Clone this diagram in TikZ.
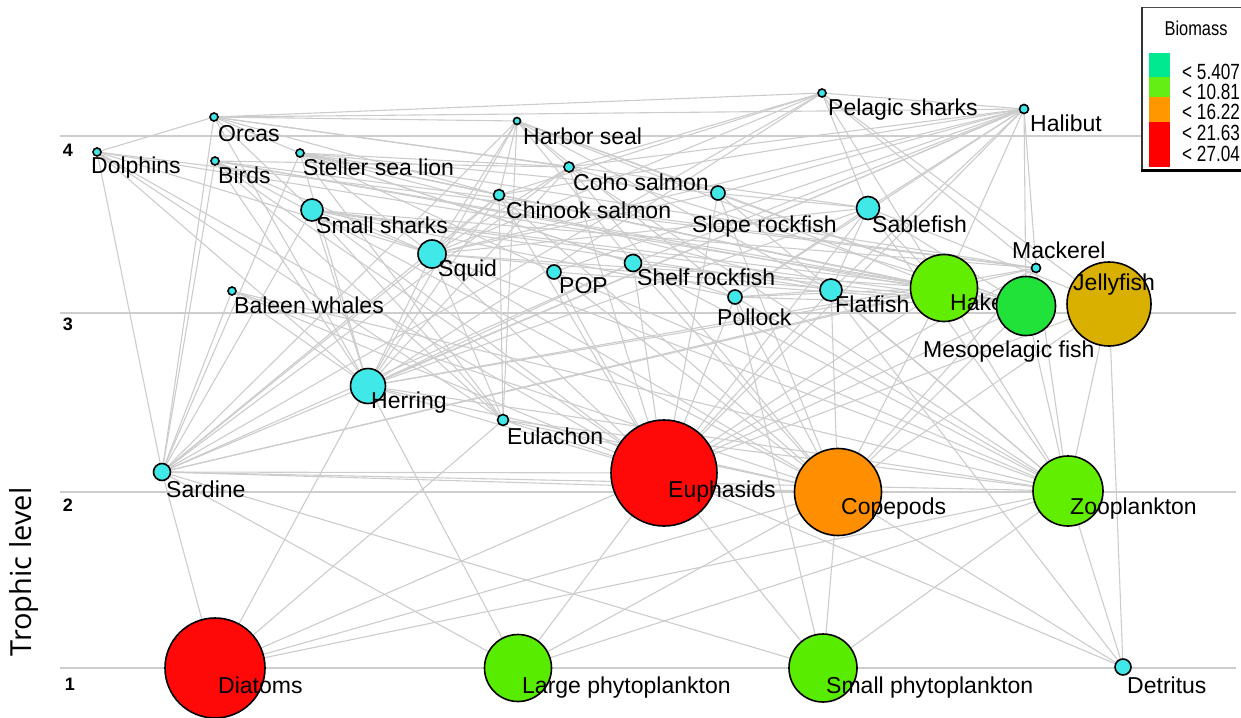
\documentclass[tikz,border=0pt]{standalone}
\usepackage{fontspec}
\setmainfont{Liberation Sans}
\newfontfamily\axisfont{Open Sans}
\pgfdeclarelayer{bg}
\pgfsetlayers{bg,main}
\definecolor{cy}{RGB}{64,232,232}
\definecolor{rd}{RGB}{255,8,8}
\definecolor{lm}{RGB}{98,238,0}
\definecolor{ph}{RGB}{88,236,0}
\definecolor{mg}{RGB}{32,226,56}
\definecolor{jf}{RGB}{218,176,0}
\definecolor{og}{RGB}{255,142,0}
\definecolor{edgegray}{RGB}{204,204,204}
\definecolor{gridgray}{RGB}{205,205,205}
\definecolor{lgteal}{RGB}{0,232,144}
\definecolor{lggreen}{RGB}{100,238,20}
\definecolor{lgorange}{RGB}{255,152,0}
\definecolor{lgred}{RGB}{255,0,0}
\tikzset{
  sp/.style 2 args={circle, draw=black, line width=1.6pt, fill=#1, inner sep=0pt, minimum size=#2},
  lbl/.style={anchor=base west, inner sep=0pt, font=\fontsize{23}{26}\selectfont},
  tick/.style={anchor=base, inner sep=0pt, font=\fontsize{18}{20}\selectfont\bfseries},
  edge/.style={draw=edgegray, line width=1.1pt},
  gridline/.style={draw=gridgray, line width=2pt},
  lgtext/.style={anchor=base west, inner sep=0pt, font=\fontsize{22}{24}\selectfont},
}
\begin{document}
\begin{tikzpicture}[x=1pt,y=-1pt]
\useasboundingbox (0,0) rectangle (1241,717);
% ---------- nodes ----------
\node[sp={cy}{8}] (dol) at (97,152) {};
\node[lbl] (dol-l) at (91,173) {Dolphins};
\node[sp={cy}{8}] (orc) at (214,117) {};
\node[lbl] (orc-l) at (218,141) {Orcas};
\node[sp={cy}{8}] (bir) at (215,161) {};
\node[lbl] (bir-l) at (218,183) {Birds};
\node[sp={cy}{8}] (ssl) at (300,153) {};
\node[lbl] (ssl-l) at (303,175) {Steller sea lion};
\node[sp={cy}{22}] (ssh) at (312,210) {};
\node[lbl] (ssh-l) at (316,233) {Small sharks};
\node[sp={cy}{8}] (bal) at (232,291) {};
\node[lbl] (bal-l) at (234,313) {Baleen whales};
\node[sp={cy}{7}] (hse) at (517,121) {};
\node[lbl] (hse-l) at (523,144) {Harbor seal};
\node[sp={cy}{10}] (coh) at (569,167) {};
\node[lbl] (coh-l) at (573,190) {Coho salmon};
\node[sp={cy}{11}] (chi) at (499,195) {};
\node[lbl] (chi-l) at (506,218) {Chinook salmon};
\node[sp={cy}{28}] (squ) at (432,254) {};
\node[lbl] (squ-l) at (438,276) {Squid};
\node[sp={cy}{14}] (pop) at (554,272) {};
\node[lbl] (pop-l) at (559,293) {POP};
\node[sp={cy}{17}] (shr) at (633,263) {};
\node[lbl] (shr-l) at (637,285) {Shelf rockfish};
\node[sp={cy}{14}] (slr) at (718,193) {};
\node[lbl] (slr-l) at (692,232) {Slope rockfish};
\node[sp={cy}{14}] (pol) at (735,297) {};
\node[lbl] (pol-l) at (717,325) {Pollock};
\node[sp={cy}{8}] (pel) at (822,93) {};
\node[lbl] (pel-l) at (828,115) {Pelagic sharks};
\node[sp={cy}{9}] (hal) at (1024,109) {};
\node[lbl] (hal-l) at (1030,131) {Halibut};
\node[sp={cy}{23}] (sab) at (868,208) {};
\node[lbl] (sab-l) at (872,232) {Sablefish};
\node[sp={cy}{22}] (fla) at (831,290) {};
\node[lbl] (fla-l) at (835,312) {Flatfish};
\node[sp={lm}{67}] (hak) at (944,288) {};
\node[lbl] (hak-l) at (950,310) {Hake};
\node[sp={cy}{9}] (mac) at (1036,268) {};
\node[lbl] (mac-l) at (1012,258) {Mackerel};
\node[sp={mg}{59}] (mes) at (1026,306) {};
\node[lbl] (mes-l) at (923,357) {Mesopelagic fish};
\node[sp={jf}{84}] (jel) at (1109,304) {};
\node[lbl] (jel-l) at (1073,290) {Jellyfish};
\node[sp={cy}{35}] (her) at (368,386) {};
\node[lbl] (her-l) at (371,408) {Herring};
\node[sp={cy}{11}] (eul) at (503,420) {};
\node[lbl] (eul-l) at (507,444) {Eulachon};
\node[sp={cy}{17}] (sar) at (162,472) {};
\node[lbl] (sar-l) at (166,497) {Sardine};
\node[sp={rd}{106}] (eup) at (664,473) {};
\node[lbl] (eup-l) at (668,497) {Euphasids};
\node[sp={og}{87}] (cop) at (838,492) {};
\node[lbl] (cop-l) at (841,514) {Copepods};
\node[sp={lm}{70}] (zoo) at (1068,491) {};
\node[lbl] (zoo-l) at (1070,514) {Zooplankton};
\node[sp={rd}{100}] (dia) at (215,668) {};
\node[lbl] (dia-l) at (218,693) {Diatoms};
\node[sp={ph}{67}] (lph) at (518,668) {};
\node[lbl] (lph-l) at (522,693) {Large phytoplankton};
\node[sp={ph}{68}] (sph) at (823,668) {};
\node[lbl] (sph-l) at (826,693) {Small phytoplankton};
\node[sp={cy}{16}] (det) at (1123,667) {};
\node[lbl] (det-l) at (1127,693) {Detritus};
% ---------- axis ----------
\node[tick] (t4) at (68,156) {4};
\node[tick] (t3) at (68,330) {3};
\node[tick] (t2) at (68,511) {2};
\node[tick] (t1) at (70,690) {1};
\node[rotate=90, inner sep=0pt, font=\axisfont\fontsize{29}{32}\selectfont] (ylab) at (24,572) {Trophic level};
% ---------- legend ----------
\fill[white] (1142,7) rectangle (1241,170);
\draw[line width=0.8pt, black!70] (1142,7) -- (1241,7);
\begin{scope}
\clip (1142,7) rectangle (1241,168);
\fill[lgteal] (1149,53) rectangle (1170,77);
\fill[lggreen] (1149,77) rectangle (1170,97);
\fill[lgorange] (1149,97) rectangle (1170,122);
\fill[lgred] (1149,122) rectangle (1170,167);
\node[anchor=base, inner sep=0pt, font=\fontsize{20}{22}\selectfont] (lgt) at (1196,36) {\scalebox{0.82}[1]{Biomass}};
\node[lgtext] (lg1) at (1182,79) {\scalebox{0.78}[1]{< 5.407}};
\node[lgtext] (lg2) at (1182,99) {\scalebox{0.78}[1]{< 10.81}};
\node[lgtext] (lg3) at (1182,119) {\scalebox{0.78}[1]{< 16.22}};
\node[lgtext] (lg4) at (1182,140) {\scalebox{0.78}[1]{< 21.63}};
\node[lgtext] (lg5) at (1182,161) {\scalebox{0.78}[1]{< 27.04}};
\end{scope}
\draw[line width=2pt, black!80] (1142,7) -- (1142,170);
\draw[line width=3pt, black] (1141,170) -- (1241,170);
% ---------- background: grid + edges ----------
\begin{pgfonlayer}{bg}
\draw[gridline] (60,136) -- (1142,136);
\draw[gridline] (60,313) -- (1236,313);
\draw[gridline] (60,492) -- (1236,492);
\draw[gridline] (60,668) -- (1236,668);
\foreach \a/\b in {
 orc/ssl, orc/hse, orc/pel, orc/hal, orc/coh, orc/chi, orc/ssh, orc/dol, orc/sab, orc/her, orc/sar,
 dol/sar, dol/eul, dol/squ, dol/her, dol/hak, dol/mac, dol/eup,
 bir/sar, bir/her, bir/eul, bir/squ, bir/eup, bir/cop, bir/mac, bir/coh, bir/hak, bir/mes,
 ssl/her, ssl/pol, ssl/squ, ssl/hak, ssl/coh, ssl/chi, ssl/fla, ssl/eul, ssl/mac, ssl/sar, ssl/sab, ssl/pop, ssl/shr, ssl/mes,
 hse/her, hse/pol, hse/hak, hse/eul, hse/coh, hse/chi, hse/fla, hse/squ, hse/shr, hse/sar, hse/mes, hse/slr,
 pel/hak, pel/squ, pel/mac, pel/her, pel/sar, pel/coh, pel/chi, pel/hal, pel/jel, pel/sab,
 hal/fla, hal/pol, hal/hak, hal/her, hal/squ, hal/sab, hal/shr, hal/mes, hal/mac, hal/sar, hal/coh, hal/chi, hal/eup, hal/slr, hal/pop,
 ssh/her, ssh/squ, ssh/sar, ssh/hak, ssh/eup, ssh/mes, ssh/pol, ssh/eul, ssh/fla, ssh/mac,
 bal/eup, bal/cop, bal/sar, bal/her, bal/zoo,
 coh/her, coh/sar, coh/eup, coh/squ, coh/zoo, coh/cop, coh/mes,
 chi/her, chi/sar, chi/squ, chi/eup, chi/eul, chi/mes, chi/cop,
 squ/eup, squ/cop, squ/her, squ/zoo, squ/mes, squ/sar, squ/eul,
 slr/eup, slr/mes, slr/squ, slr/cop, slr/zoo,
 sab/squ, sab/eup, sab/mes, sab/pol, sab/jel, sab/hak, sab/her, sab/fla, sab/zoo,
 pop/eup, pop/cop, pop/mes, pop/zoo,
 shr/eup, shr/her, shr/cop, shr/zoo, shr/sar, shr/mes,
 pol/eup, pol/cop, pol/zoo, pol/mes, pol/sph,
 fla/eup, fla/zoo, fla/det, fla/cop, fla/pol,
 hak/eup, hak/her, hak/sar, hak/pol, hak/mes, hak/squ, hak/cop, hak/zoo,
 mac/eup, mac/cop, mac/her, mac/sar, mac/zoo,
 mes/eup, mes/cop, mes/zoo,
 jel/zoo, jel/cop, jel/eup, jel/det,
 her/eup, her/cop, her/zoo, her/dia, her/lph,
 eul/eup, eul/cop, eul/zoo, eul/dia,
 sar/dia, sar/eup, sar/cop, sar/zoo, sar/lph, sar/sph,
 eup/dia, eup/lph, eup/sph, eup/det,
 cop/dia, cop/lph, cop/sph, cop/det,
 zoo/dia, zoo/lph, zoo/sph, zoo/det}
 \draw[edge] (\a.center) -- (\b.center);
\end{pgfonlayer}
\end{tikzpicture}
\end{document}
